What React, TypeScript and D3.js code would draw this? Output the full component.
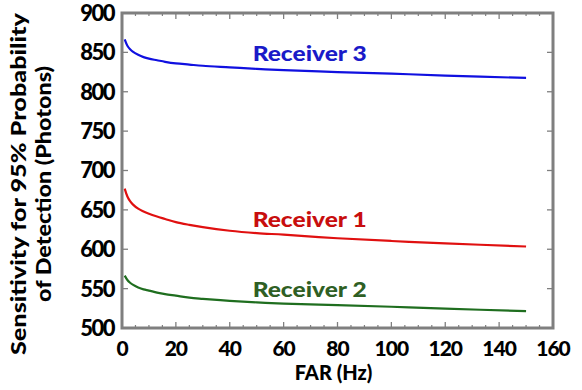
import * as d3 from "d3"

// FAR values (Hz) sampled along the curves
const far = [1, 2, 3, 4, 6, 8, 10, 13, 16, 20, 25, 30, 40, 50, 60, 80, 100, 120, 150]
const receiver3 = [866.5, 858.5, 854, 851, 847, 844, 842, 840, 838, 836, 834.5, 833, 831, 829, 827.5, 825, 823, 820.5, 817.5]
const receiver1 = [677, 667, 661, 657, 651.5, 648, 645, 641.5, 638.5, 634.5, 631, 628, 623.5, 620.5, 618.5, 614, 610.5, 607.5, 603.5]
const receiver2 = [566.5, 561, 557.5, 555, 551.5, 549, 547.5, 545, 543, 541, 538.5, 537, 534.5, 532.5, 531, 529, 527, 524.5, 521.5]

const seriesNames = ["Receiver 3", "Receiver 1", "Receiver 2"]
const lineColors = ["#1010e0", "#e01010", "#1f6e1f"]
const labelColors = ["#1a1ac8", "#c80e0e", "#2f5f24"]
const labelFar = [48.5, 48.5, 48.5]
const labelValue = [839, 628, 539.5]

const xTicks = [0, 20, 40, 60, 80, 100, 120, 140, 160]
const yTicks = [500, 550, 600, 650, 700, 750, 800, 850, 900]

export default function App() {
  const width = 582
  const height = 390
  const margin = { top: 13, right: 29, bottom: 62, left: 122 }
  const innerW = width - margin.left - margin.right
  const innerH = height - margin.top - margin.bottom

  const x = d3.scaleLinear().domain([0, 160]).range([0, innerW])
  const y = d3.scaleLinear().domain([500, 900]).range([innerH, 0])

  const line = d3
    .line<number>()
    .x((_, i) => x(far[i]))
    .y((d) => y(d))
    .curve(d3.curveCatmullRom.alpha(0.5))

  const series = [receiver3, receiver1, receiver2]
  const minorX = d3.range(0, 161, 5).filter((v) => v % 20 !== 0)
  const font = "Lato, 'Open Sans', sans-serif"
  const frame = "#7f7f7f"

  return (
    <div style={{ position: "fixed", left: 0, top: 0 }}>
      <svg width={width} height={height} style={{ display: "block", background: "#fff" }}>
        <g transform={`translate(${margin.left},${margin.top})`}>
          {/* curves */}
          {series.map((s, i) => (
            <path key={i} d={line(s) || ""} fill="none" stroke={lineColors[i]} strokeWidth={2.2} />
          ))}

          {/* series labels */}
          {seriesNames.map((n, i) => (
            <text
              key={n}
              x={x(labelFar[i])}
              y={y(labelValue[i])}
              fill={labelColors[i]}
              fontFamily={font}
              fontWeight={900}
              fontSize={21}
              textLength={114}
              lengthAdjust="spacingAndGlyphs"
            >
              {n}
            </text>
          ))}

          {/* ticks x, bottom and top */}
          {xTicks.map((t) => (
            <g key={"x" + t}>
              <line x1={x(t)} x2={x(t)} y1={innerH} y2={innerH - 6} stroke={frame} strokeWidth={1.3} />
              <line x1={x(t)} x2={x(t)} y1={0} y2={6} stroke={frame} strokeWidth={1.3} />
              <text
                x={x(t)}
                y={innerH + 28}
                textAnchor="middle"
                fontFamily={font}
                fontWeight={900}
                fontSize={21}
                letterSpacing={-1}
                fill="#000"
              >
                {t}
              </text>
            </g>
          ))}
          {minorX.map((t) => (
            <g key={"mx" + t}>
              <line x1={x(t)} x2={x(t)} y1={innerH} y2={innerH - 3} stroke={frame} strokeWidth={1.2} />
              <line x1={x(t)} x2={x(t)} y1={0} y2={3} stroke={frame} strokeWidth={1.2} />
            </g>
          ))}

          {/* ticks y, left and right */}
          {yTicks.map((t) => (
            <g key={"y" + t}>
              <line x1={0} x2={6} y1={y(t)} y2={y(t)} stroke={frame} strokeWidth={1.3} />
              <line x1={innerW} x2={innerW - 6} y1={y(t)} y2={y(t)} stroke={frame} strokeWidth={1.3} />
              <text
                x={-8}
                y={y(t)}
                dy="0.36em"
                textAnchor="end"
                fontFamily={font}
                fontWeight={900}
                fontSize={22}
                letterSpacing={-1.5}
                fill="#000"
              >
                {t}
              </text>
            </g>
          ))}

          {/* frame */}
          <rect x={0} y={0} width={innerW} height={innerH} fill="none" stroke={frame} strokeWidth={3} />

          {/* axis titles */}
          <text
            x={innerW / 2 - 4}
            y={innerH + 52}
            textAnchor="middle"
            fontFamily={font}
            fontWeight={900}
            fontSize={20}
            fill="#000"
          >
            FAR (Hz)
          </text>
        </g>
        <g transform="translate(20,184) rotate(-90)">
          <text
            x={0}
            y={6}
            textAnchor="middle"
            fontFamily={font}
            fontWeight={900}
            fontSize={20}
            fill="#000"
            textLength={342}
            lengthAdjust="spacingAndGlyphs"
          >
            Sensitivity for 95% Probability
          </text>
          <text
            x={0}
            y={31}
            textAnchor="middle"
            fontFamily={font}
            fontWeight={900}
            fontSize={20}
            fill="#000"
            textLength={236}
            lengthAdjust="spacingAndGlyphs"
          >
            of Detection (Photons)
          </text>
        </g>
      </svg>
    </div>
  )
}
